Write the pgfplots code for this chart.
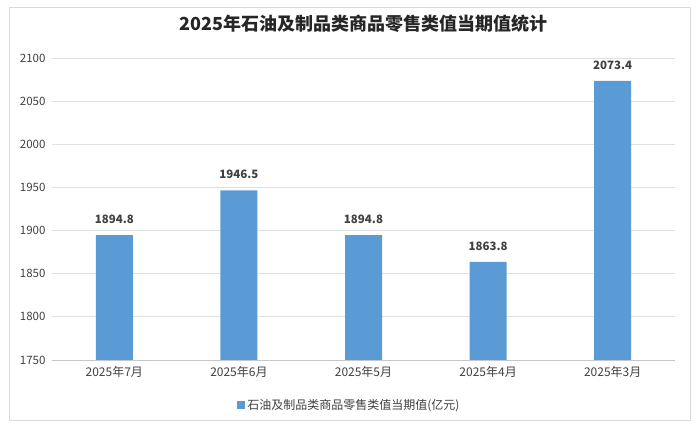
\documentclass[border=0pt]{standalone}
\usepackage{fontspec}
\setmainfont{Noto Sans CJK SC}
\usepackage{pgfplots}
\pgfplotsset{compat=1.18}
\definecolor{barblue}{HTML}{5B9BD5}
\definecolor{txt}{HTML}{404040}
\begin{document}
\begin{tikzpicture}[x=1bp,y=1bp]
\useasboundingbox (0,0) rectangle (699,433);
\draw[black!15, line width=1bp] (9,12) rectangle (690,425);
\begin{axis}[
    at={(52bp,73bp)}, anchor=south west,
    scale only axis,
    width=623bp, height=302bp,
    ybar,
    bar width=37bp,
    xmin=-0.5, xmax=4.5,
    ymin=1750, ymax=2100,
    xtick=data,
    xticklabels={2025年7月,2025年6月,2025年5月,2025年4月,2025年3月},
    ytick={1750,1800,...,2100},
    axis x line*=bottom,
    axis y line*=left,
    x axis line style={-, draw=black!22},
    y axis line style={draw=none},
    major tick length=0pt,
    ymajorgrids, grid style={black!12, line width=0.8bp},
    /pgf/number format/assume math mode=true,
    /pgf/number format/1000 sep={},
    yticklabel style={font=\fontsize{11.5bp}{13bp}\selectfont, text=txt, xshift=-3bp},
    xticklabel style={font=\fontsize{12bp}{14bp}\selectfont, text=txt, yshift=-3bp},
    nodes near coords,
    nodes near coords style={font=\bfseries\fontsize{11.5bp}{13bp}\selectfont, text=txt, yshift=8bp,
        /pgf/number format/fixed, /pgf/number format/precision=1, /pgf/number format/fixed zerofill},
    title={2025年石油及制品类商品零售类值当期值统计},
    title style={font=\bfseries\fontsize{18bp}{21bp}\selectfont, text=black!85, at={(0.5,1)}, anchor=center, yshift=28bp},
    legend style={at={(0.4775,-0.149)}, anchor=center, draw=none, fill=none,
        font=\fontsize{12bp}{14bp}\selectfont, text=txt},
    legend image code/.code={\fill[barblue] (0bp,-4bp) rectangle (8bp,4bp);},
]
\addplot[fill=barblue, draw=none]
    coordinates {(0,1894.8) (1,1946.5) (2,1894.8) (3,1863.8) (4,2073.4)};
\addlegendentry{石油及制品类商品零售类值当期值(亿元)}
\end{axis}
\end{tikzpicture}
\end{document}
